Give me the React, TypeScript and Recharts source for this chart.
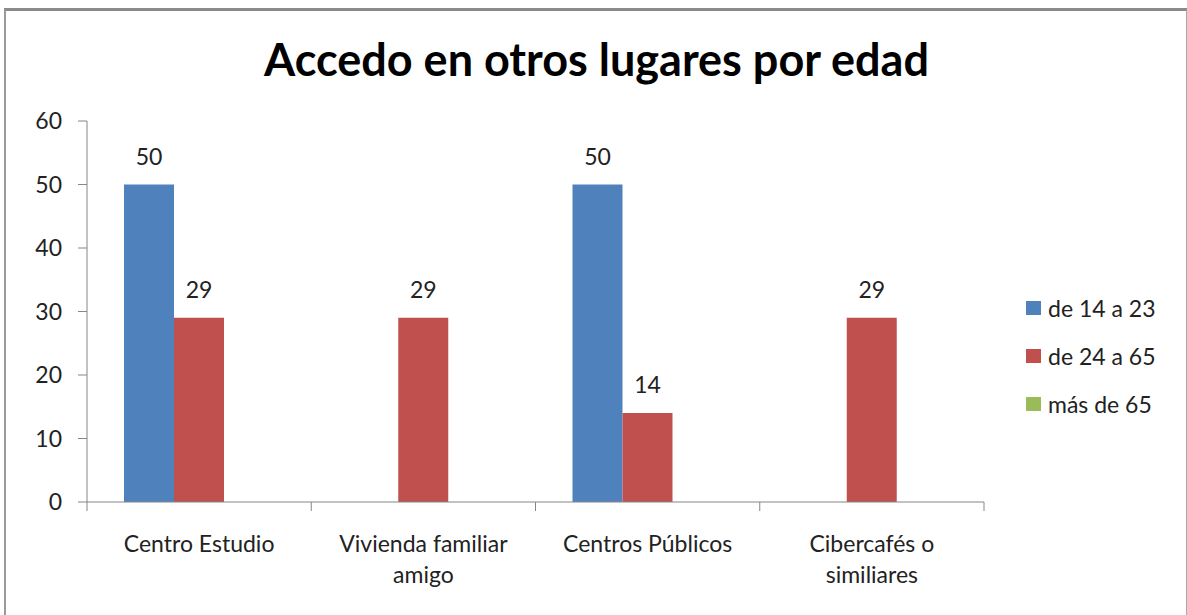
import React from 'react';
import { BarChart, Bar, XAxis, YAxis, LabelList } from 'recharts';

const categories = ['Centro Estudio', 'Vivienda familiar amigo', 'Centros Públicos', 'Cibercafés o similiares'];
const age14to23 = [50, null, 50, null];
const age24to65 = [29, 29, 14, 29];
const over65 = [null, null, null, null];
const yTicks = [0, 10, 20, 30, 40, 50, 60];

const seriesNames = ['de 14 a 23', 'de 24 a 65', 'más de 65'];
const colors = ['#4F81BD', '#C0504D', '#9BBB59'];

const data = categories.map((name, i) => ({
    name,
    s0: age14to23[i],
    s1: age24to65[i],
    s2: over65[i],
}));

const FONT = 'Lato, "Noto Sans", sans-serif';
const FS = 23;

const wrap = (text: string, max: number) => {
    const lines: string[] = [];
    let cur = '';
    text.split(' ').forEach((w) => {
        const next = cur ? cur + ' ' + w : w;
        if (next.length > max && cur) {
            lines.push(cur);
            cur = w;
        } else {
            cur = next;
        }
    });
    if (cur) lines.push(cur);
    return lines;
};

const CategoryTick = (props: any) => {
    const { x, y, payload, index, visibleTicksCount } = props;
    const half = payload.offset ?? 112;
    const lines = wrap(String(payload.value), 17);
    return (
        <g>
            <line x1={x - half} y1={y} x2={x - half} y2={y + 9} stroke="#868686" />
            {index === visibleTicksCount - 1 && (
                <line x1={x + half} y1={y} x2={x + half} y2={y + 9} stroke="#868686" />
            )}
            {lines.map((l, i) => (
                <text key={i} x={x} y={y + 50 + i * 31} textAnchor="middle" fill="#222" fontSize={FS} fontFamily={FONT}>
                    {l}
                </text>
            ))}
        </g>
    );
};

const LegendBox = () => (
    <div style={{ position: 'absolute', left: 1026, top: 284, fontFamily: FONT, fontSize: FS, color: '#222' }}>
        {seriesNames.map((n, i) => (
            <div key={n} style={{ display: 'flex', alignItems: 'center', height: 48 }}>
                <span style={{ width: 15, height: 14, background: colors[i], marginRight: 7, display: 'inline-block' }} />
                <span>{n}</span>
            </div>
        ))}
    </div>
);

const fmt = (v: any) => (v ? v : '');

export default function App() {
    return (
        <div style={{ position: 'absolute', left: 0, top: 0, width: 1187, height: 615, background: '#fff', overflow: 'hidden' }}>
            <div
                style={{
                    position: 'absolute',
                    left: 4,
                    top: 8,
                    width: 1180,
                    height: 640,
                    borderTop: '3px solid #8a8a8a',
                    borderLeft: '2px solid #9a9a9a',
                    borderRight: '2px solid #aaaaaa',
                }}
            />
            <div
                style={{
                    position: 'absolute',
                    left: 0,
                    top: 38,
                    width: 1193,
                    textAlign: 'center',
                    fontFamily: FONT,
                    fontWeight: 700,
                    fontSize: 45,
                    lineHeight: '42px',
                    color: '#000',
                }}
            >
                Accedo en otros lugares por edad
            </div>
            <div style={{ position: 'absolute', left: 0, top: 0 }}>
                <BarChart
                    width={1187}
                    height={615}
                    data={data}
                    margin={{ top: 121, right: 203, bottom: 23, left: 0 }}
                    barSize={50}
                    barGap={0}
                >
                    <YAxis
                        width={87}
                        domain={[0, 60]}
                        ticks={yTicks}
                        interval={0}
                        stroke="#868686"
                        tickSize={9}
                        tickMargin={16}
                        tick={{ fill: '#222', fontSize: FS, fontFamily: FONT }}
                    />
                    <XAxis
                        dataKey="name"
                        height={90}
                        interval={0}
                        stroke="#868686"
                        tickLine={false}
                        tickSize={0}
                        tickMargin={0}
                        tick={<CategoryTick />}
                    />
                    {['s0', 's1', 's2'].map((k, i) => (
                        <Bar key={k} dataKey={k} name={seriesNames[i]} fill={colors[i]} isAnimationActive={false}>
                            <LabelList dataKey={k} position="top" offset={20} formatter={fmt} fill="#222" fontSize={FS} fontFamily={FONT} />
                        </Bar>
                    ))}
                </BarChart>
            </div>
            <LegendBox />
        </div>
    );
}
